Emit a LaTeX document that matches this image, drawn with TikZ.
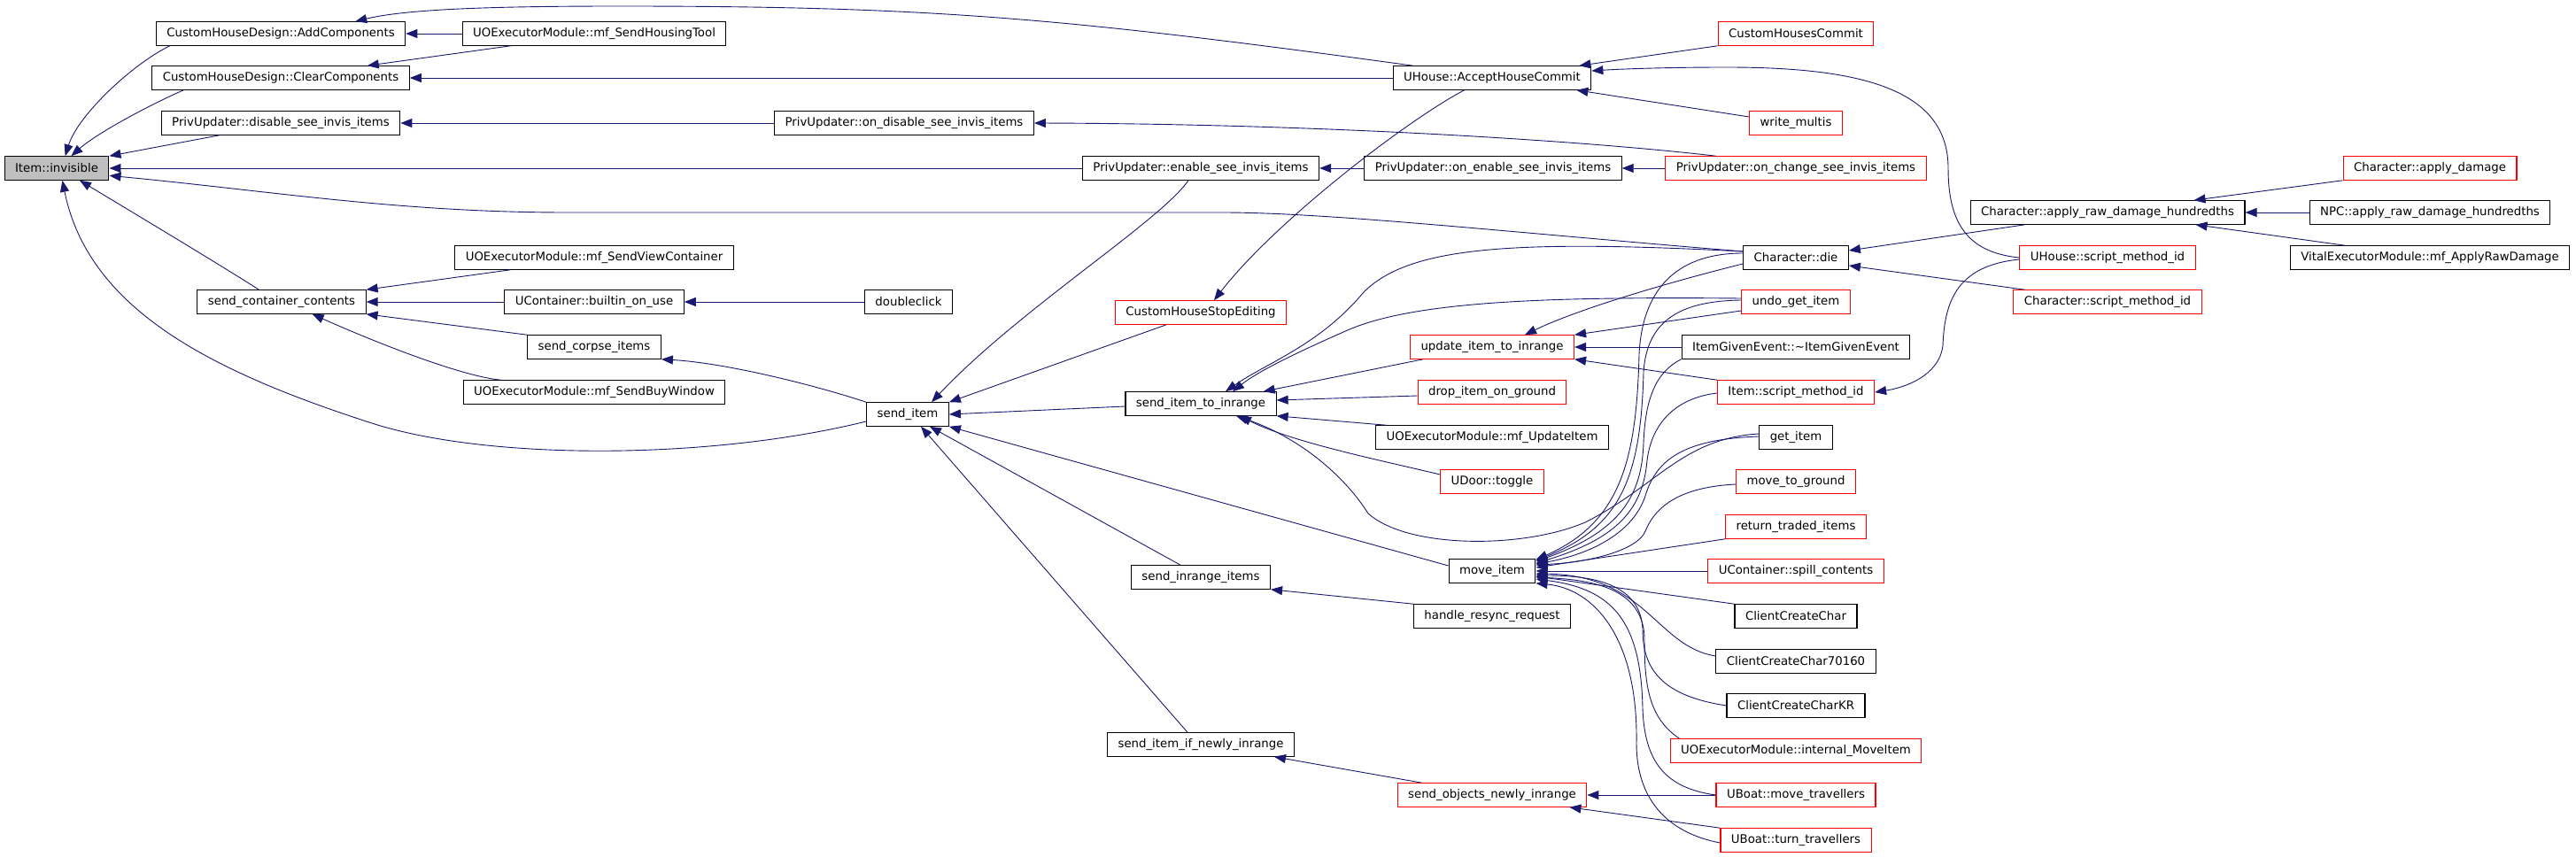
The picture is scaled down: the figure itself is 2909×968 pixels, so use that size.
\documentclass[tikz,border=0pt]{standalone}
\usepackage{fontspec}
\setmainfont{DejaVu Sans}
\usetikzlibrary{arrows.meta}
\definecolor{edgeblue}{HTML}{191970}
\definecolor{curgray}{HTML}{BFBFBF}
\tikzset{
  fn/.style={draw=black, fill=white, line width=1.1pt, inner xsep=12pt, inner ysep=2pt,
    minimum height=26.5pt, font=\fontsize{13.3}{16}\selectfont},
  fnred/.style={fn, draw=red},
  fncur/.style={fn, fill=curgray},
  call/.style={draw=edgeblue, line width=0.9pt, -{Triangle[length=13pt,width=10pt]}}
}
\begin{document}
\begin{tikzpicture}[x=1pt,y=-1pt]
    \useasboundingbox (0,0) rectangle (2909,968);
    % functions
    \node[fncur] (inv) at (64,190) {Item::invisible};
    \node[fn] (addc) at (317,38) {CustomHouseDesign::AddComponents};
    \node[fn] (clrc) at (317,88) {CustomHouseDesign::ClearComponents};
    \node[fn] (disinv) at (317,139) {PrivUpdater::disable\_see\_invis\_items};
    \node[fn] (scc) at (318,341) {send\_container\_contents};
    \node[fn] (sht) at (671,38) {UOExecutorModule::mf\_SendHousingTool};
    \node[fn] (svc) at (671,291) {UOExecutorModule::mf\_SendViewContainer};
    \node[fn] (bou) at (671,341) {UContainer::builtin\_on\_use};
    \node[fn] (sci) at (671,392) {send\_corpse\_items};
    \node[fn] (sbw) at (671,443) {UOExecutorModule::mf\_SendBuyWindow};
    \node[fn] (ondis) at (1021,139) {PrivUpdater::on\_disable\_see\_invis\_items};
    \node[fn] (dbl) at (1026,341) {doubleclick};
    \node[fn] (sitem) at (1025,468) {send\_item};
    \node[fn] (ensee) at (1356,190) {PrivUpdater::enable\_see\_invis\_items};
    \node[fnred] (chse) at (1356,353) {CustomHouseStopEditing};
    \node[fn] (sitr) at (1356,456) {send\_item\_to\_inrange};
    \node[fn] (sir) at (1356,652) {send\_inrange\_items};
    \node[fn] (sinr) at (1356,841) {send\_item\_if\_newly\_inrange};
    \node[fn] (ahc) at (1685,88) {UHouse::AcceptHouseCommit};
    \node[fn] (onen) at (1686,190) {PrivUpdater::on\_enable\_see\_invis\_items};
    \node[fnred] (uitr) at (1685,392) {update\_item\_to\_inrange};
    \node[fnred] (drop) at (1685,443) {drop\_item\_on\_ground};
    \node[fn] (mfui) at (1685,494) {UOExecutorModule::mf\_UpdateItem};
    \node[fnred] (door) at (1685,544) {UDoor::toggle};
    \node[fn] (mvi) at (1685,645) {move\_item};
    \node[fn] (hrr) at (1685,696) {handle\_resync\_request};
    \node[fnred] (sonr) at (1685,898) {send\_objects\_newly\_inrange};
    \node[fnred] (chc) at (2028,38) {CustomHousesCommit};
    \node[fnred] (wm) at (2028,139) {write\_multis};
    \node[fnred] (onch) at (2028,190) {PrivUpdater::on\_change\_see\_invis\_items};
    \node[fn] (die) at (2028,291) {Character::die};
    \node[fnred] (undo) at (2028,341) {undo\_get\_item};
    \node[fn] (ige) at (2028,392) {ItemGivenEvent::\textasciitilde ItemGivenEvent};
    \node[fnred] (isid) at (2028,443) {Item::script\_method\_id};
    \node[fn] (get) at (2028,494) {get\_item};
    \node[fnred] (mtg) at (2028,544) {move\_to\_ground};
    \node[fnred] (rti) at (2028,595) {return\_traded\_items};
    \node[fnred] (spill) at (2028,645) {UContainer::spill\_contents};
    \node[fn] (ccc) at (2028,696) {ClientCreateChar};
    \node[fn] (ccc7) at (2028,747) {ClientCreateChar70160};
    \node[fn] (ccck) at (2028,797) {ClientCreateCharKR};
    \node[fnred] (imi) at (2028,848) {UOExecutorModule::internal\_MoveItem};
    \node[fnred] (umt) at (2028,898) {UBoat::move\_travellers};
    \node[fnred] (utt) at (2028,949) {UBoat::turn\_travellers};
    \node[fn] (ard) at (2380,240) {Character::apply\_raw\_damage\_hundredths};
    \node[fnred] (hsid) at (2380,291) {UHouse::script\_method\_id};
    \node[fnred] (csid) at (2380,341) {Character::script\_method\_id};
    \node[fnred] (adm) at (2744,190) {Character::apply\_damage};
    \node[fn] (npc) at (2744,240) {NPC::apply\_raw\_damage\_hundredths};
    \node[fn] (vem) at (2744,291) {VitalExecutorModule::mf\_ApplyRawDamage};
    % calls into Item::invisible
    \draw[call] ([xshift=16]addc.south west) .. controls (150,72) and (88,130) .. (inv.55);
    \draw[call] ([xshift=36]clrc.south west) .. controls (170,118) and (110,150) .. (inv.40);
    \draw[call] ([xshift=66]disinv.south west) -- (inv.north east);
    \draw[call] (ensee.west) -- (inv.east);
    \draw[call] ([yshift=7]die.west) .. controls (1700,262) and (1500,240) .. (1380,240) -- (640,240)
        .. controls (450,240) and (300,215) .. (inv.-8);
    \draw[call] ([xshift=70]scc.north west) .. controls (250,300) and (150,240) .. (inv.-28);
    \draw[call] ([yshift=-8]sitem.west) .. controls (800,520) and (550,520) .. (420,478)
        .. controls (240,420) and (100,350) .. (inv.-65);
    % left columns
    \draw[call] (sht.west) -- (addc.east);
    \draw[call] ([xshift=55]sht.south west) -- ([xshift=-48]clrc.north east);
    \draw[call] ([xshift=23]ahc.north west) .. controls (1200,20) and (1050,7) .. (700,7)
        .. controls (560,7) and (460,10) .. ([xshift=-57]addc.north east);
    \draw[call] (ahc.west) -- (clrc.east);
    \draw[call] (ondis.west) -- (disinv.east);
    \draw[call] ([xshift=57]onch.north west) .. controls (1800,160) and (1500,140) .. (ondis.east);
    \draw[call] (chc.south west) -- ([xshift=-14]ahc.north east);
    \draw[call] (hsid.west) .. controls (2220,285) and (2200,250) .. (2200,190)
        .. controls (2200,100) and (2100,76) .. (1950,76) .. controls (1880,76) and (1830,78) .. ([yshift=8]ahc.east);
    \draw[call] ([yshift=7]wm.west) -- ([xshift=-17]ahc.south east);
    \draw[call] ([xshift=81]ahc.south west) .. controls (1590,135) and (1440,250) .. ([xshift=15]chse.north);
    \draw[call] (onen.west) -- (ensee.east);
    \draw[call] (onch.west) -- (onen.east);
    % Character
    \draw[call] ([xshift=62]ard.south west) -- ([yshift=8]die.east);
    \draw[call] ([xshift=13]csid.north west) -- ([yshift=-9]die.east);
    \draw[call] (adm.south west) -- ([xshift=-58]ard.north east);
    \draw[call] (npc.west) -- (ard.east);
    \draw[call] ([xshift=62]vem.north west) -- ([xshift=-56]ard.south east);
    \draw[call] ([yshift=-2]hsid.west) .. controls (2210,300) and (2196,340) .. (2194,390)
        .. controls (2190,425) and (2150,438) .. (isid.east);
    % containers
    \draw[call] ([xshift=63]svc.south west) -- (scc.north east);
    \draw[call] (bou.west) -- (scc.east);
    \draw[call] (sci.north west) -- (scc.south east);
    \draw[call] ([xshift=43]sbw.north west) .. controls (520,425) and (420,385) .. ([xshift=-61]scc.south east);
    \draw[call] (dbl.west) -- (bou.east);
    \draw[call] (sitem.north west) .. controls (920,435) and (820,410) .. (sci.south east);
    % send_item
    \draw[call] ([xshift=-14]ensee.south) .. controls (1310,250) and (1150,350) .. ([xshift=27]sitem.north);
    \draw[call] ([xshift=-39]chse.south) -- (sitem.north east);
    \draw[call] ([yshift=-3]sitr.west) -- (sitem.east);
    \draw[call] ([yshift=6]mvi.west) -- (sitem.south east);
    \draw[call] ([xshift=-23]sir.north) -- ([xshift=25]sitem.south);
    \draw[call] ([xshift=-15]sinr.north) -- ([xshift=15]sitem.south);
    % send_item_to_inrange
    \draw[call] ([yshift=7]die.west) .. controls (1700,270) and (1590,280) .. (1540,330)
        .. controls (1490,390) and (1430,410) .. ([xshift=28]sitr.north);
    \draw[call] ([yshift=4]undo.west) .. controls (1750,335) and (1600,340) .. (1524,372)
        .. controls (1460,400) and (1420,420) .. ([xshift=36]sitr.north);
    \draw[call] ([xshift=-78]uitr.south) -- ([xshift=-15]sitr.north east);
    \draw[call] ([yshift=-4]drop.west) -- ([yshift=4]sitr.east);
    \draw[call] ([xshift=12]mfui.north west) -- (sitr.south east);
    \draw[call] ([yshift=8]door.west) .. controls (1560,520) and (1460,500) .. ([xshift=44]sitr.south);
    \draw[call] ([yshift=4]get.west) .. controls (1900,495) and (1870,550) .. (1790,590)
        .. controls (1720,620) and (1590,620) .. (1545,580) .. controls (1520,540) and (1470,495) .. ([xshift=40]sitr.south);
    % update_item_to_inrange
    \draw[call] ([yshift=-7]die.west) .. controls (1880,320) and (1780,350) .. ([xshift=37]uitr.north);
    \draw[call] ([yshift=-10]undo.west) -- (uitr.north east);
    \draw[call] (ige.west) -- (uitr.east);
    \draw[call] (isid.north west) -- (uitr.south east);
    % move_item
    \draw[call] ([yshift=5]die.west) .. controls (1900,286) and (1855,320) .. (1851,400)
        .. controls (1848,520) and (1830,590) .. ([yshift=-1]mvi.north east);
    \draw[call] ([yshift=2]undo.west) .. controls (1900,340) and (1860,360) .. (1856,420)
        .. controls (1853,540) and (1830,595) .. ([yshift=-2]mvi.north east);
    \draw[call] (ige.south west) .. controls (1870,420) and (1858,450) .. (1856,500)
        .. controls (1854,560) and (1830,600) .. ([yshift=-3]mvi.north east);
    \draw[call] ([yshift=-1]isid.west) .. controls (1890,450) and (1865,480) .. (1860,520)
        .. controls (1855,580) and (1820,610) .. ([yshift=-5]mvi.north east);
    \draw[call] ([yshift=1]get.west) .. controls (1900,496) and (1870,520) .. (1858,560)
        .. controls (1845,600) and (1800,625) .. ([yshift=-6]mvi.north east);
    \draw[call] ([yshift=-3]mtg.west) .. controls (1900,550) and (1870,570) .. (1858,600)
        .. controls (1850,620) and (1800,635) .. ([yshift=7]mvi.east);
    \draw[call] (rti.south west) -- ([yshift=4]mvi.east);
    \draw[call] (spill.west) -- (mvi.east);
    \draw[call] (ccc.north west) -- ([yshift=-6]mvi.east);
    \draw[call] ([yshift=6]ccc7.west) .. controls (1870,730) and (1860,650) .. ([yshift=-3]mvi.east);
    \draw[call] (ccck.west) .. controls (1870,785) and (1855,750) .. (1855,710)
        .. controls (1852,660) and (1800,650) .. ([yshift=-5]mvi.east);
    \draw[call] ([xshift=11]imi.north west) .. controls (1860,810) and (1857,770) .. (1857,720)
        .. controls (1855,665) and (1800,655) .. ([yshift=-7]mvi.east);
    \draw[call] (umt.west) .. controls (1880,890) and (1857,860) .. (1855,800)
        .. controls (1853,700) and (1820,665) .. ([yshift=-9]mvi.east);
    \draw[call] ([yshift=-3]utt.west) .. controls (1880,940) and (1848,900) .. (1848,840)
        .. controls (1850,720) and (1800,665) .. (mvi.south east);
    % bottom rows
    \draw[call] (hrr.north west) -- (sir.south east);
    \draw[call] ([xshift=28]sonr.north west) -- ([xshift=-23]sinr.south east);
    \draw[call] (umt.west) -- (sonr.east);
    \draw[call] (utt.north west) -- ([xshift=-20]sonr.south east);
\end{tikzpicture}
\end{document}
